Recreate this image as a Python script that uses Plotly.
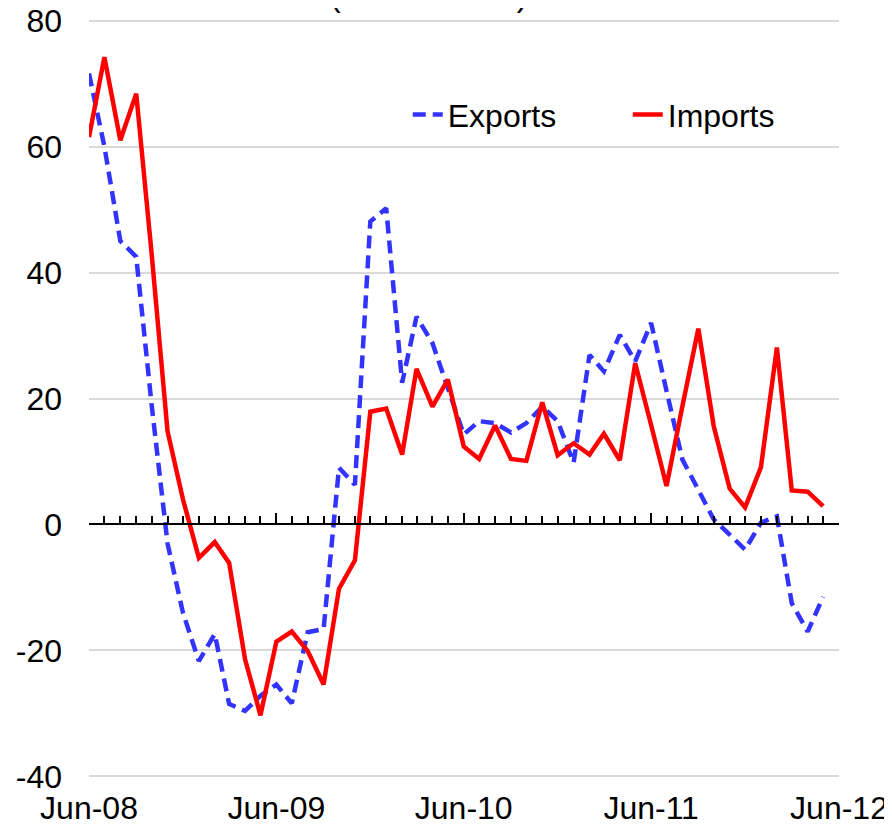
import pandas as pd
import plotly.graph_objects as go


# -------------------------------------------------
# Data: monthly growth, Jun-08 .. May-12
# -------------------------------------------------

months = pd.date_range("2008-06-01", periods=48, freq="MS")

exports = [
    71.6, 60.0, 45.0, 42.5, 19.0, -3.0, -14.0, -21.7, -17.4, -28.5, -29.6, -27.2,
    -25.4, -28.4, -17.1, -16.6, 9.0, 6.3, 48.1, 50.2, 22.5, 33.0, 28.8, 21.9,
    14.3, 16.4, 16.1, 14.6, 16.1, 18.7, 16.4, 9.8, 26.9, 24.3, 30.1, 25.9,
    32.0, 21.2, 10.3, 5.5, 0.8, -1.6, -4.0, 0.3, 1.3, -12.5, -17.0, -11.5,
]

imports = [
    61.5, 74.2, 61.0, 68.4, 43.0, 14.8, 4.0, -5.3, -2.8, -6.1, -21.4, -30.3,
    -18.6, -17.0, -20.1, -25.4, -10.2, -5.7, 17.9, 18.4, 11.1, 24.7, 18.7, 23.0,
    12.4, 10.4, 15.7, 10.4, 10.1, 19.4, 11.0, 12.9, 11.1, 14.4, 10.2, 25.6,
    15.8, 6.1, 18.8, 31.1, 15.6, 5.7, 2.7, 9.1, 28.1, 5.4, 5.2, 2.9,
]

tick_dates = ["2008-06-01", "2009-06-01", "2010-06-01", "2011-06-01", "2012-06-01"]
tick_labels = ["Jun-08", "Jun-09", "Jun-10", "Jun-11", "Jun-12"]
y_ticks = [-40, -20, 0, 20, 40, 60, 80]
y_labels = ["-40", "-20", "0", "20", "40", "60", "80"]
x_range = ["2008-06-01", "2012-06-01"]
# padded a touch so the gridlines at -40 and 80 are still drawn
y_range = [-40.25, 80.25]

FONT = "Liberation Sans, Arial, sans-serif"

fig = go.Figure()

fig.add_trace(go.Scatter(
    x=months, y=exports, name="Exports", mode="lines",
    line=dict(color="#3333FF", width=4.5, dash="13px,7px")
))
fig.add_trace(go.Scatter(
    x=months, y=imports, name="Imports", mode="lines",
    line=dict(color="#FF0000", width=4.5)
))
# invisible trace so the zero-line axis gets drawn
fig.add_trace(go.Scatter(
    x=x_range, y=[0, 0], xaxis="x2", mode="lines",
    line=dict(width=0), showlegend=False, hoverinfo="skip"
))

zero_pos = (0 - y_range[0]) / (y_range[1] - y_range[0])

fig.update_layout(
    width=892,
    height=833,
    margin=dict(l=81, r=61, t=11, b=63),
    plot_bgcolor="white",
    paper_bgcolor="white",
    font=dict(family=FONT, size=32, color="black"),
    showlegend=True,
    legend=dict(
        orientation="h",
        x=0.425, y=0.91,
        xanchor="left", yanchor="top",
        bgcolor="rgba(0,0,0,0)",
        font=dict(size=32),
        entrywidth=175,
    ),
    xaxis=dict(
        type="date",
        range=x_range,
        tickvals=tick_dates,
        ticktext=tick_labels,
        showgrid=False,
        showline=False,
        zeroline=False,
        ticks="",
        ticklabelstandoff=8,
        ticklabeloverflow="allow",
        automargin=False,
    ),
    xaxis2=dict(
        type="date",
        overlaying="x",
        anchor="free",
        position=zero_pos,
        range=x_range,
        showline=True,
        linecolor="black",
        linewidth=2,
        showgrid=False,
        zeroline=False,
        ticks="inside",
        tickvals=tick_dates,
        ticklen=10,
        tickwidth=1.5,
        tickcolor="black",
        showticklabels=False,
        automargin=False,
        minor=dict(ticks="inside", dtick="M1", tick0="2008-06-01",
                   ticklen=7, tickwidth=1.5, tickcolor="black"),
    ),
    yaxis=dict(
        range=y_range,
        tickvals=y_ticks,
        ticktext=y_labels,
        showgrid=True,
        gridcolor="#D9D9D9",
        gridwidth=1.5,
        zeroline=False,
        showline=False,
        ticks="",
        ticklabelstandoff=26,
        ticklabeloverflow="allow",
        automargin=False,
    ),
)

# title sits above the visible area; only the bottom of it shows
fig.add_annotation(
    text="(Percent YoY)", xref="paper", yref="paper",
    x=0.452, y=1.031, xanchor="center", yanchor="middle",
    showarrow=False, font=dict(size=32)
)

fig.write_html("out.html")
